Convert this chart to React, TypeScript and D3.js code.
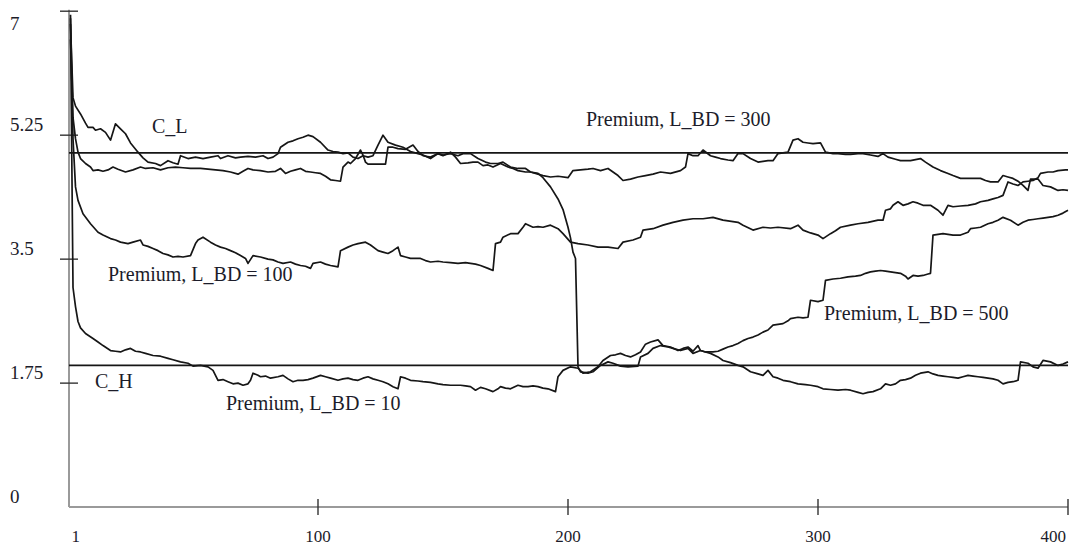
import React from "react";
import * as d3 from "d3";

// Premium paths over 400 periods, [period, value]
const premium10: [number, number][] = [
  [1,6.9],[2,3.1],[3,2.83],[4,2.62],[5,2.53],[7,2.45],[10,2.38],[12,2.33],[14,2.28],[17,2.21],[19,2.2],[21,2.19],[23,2.22],[25,2.24],[27,2.2],[29,2.19],[31,2.17],[34,2.14],[37,2.13],[40,2.1],[42,2.08],[45,2.05],[48,2.03],[50,1.99],[53,2.0],[56,1.98],[58,1.93],[60,1.79],[62,1.8],[64,1.77],[66,1.74],[68,1.75],[70,1.72],[72,1.74],[73,1.79],[74,1.89],[76,1.86],[77,1.84],[79,1.85],[81,1.82],[84,1.84],[86,1.86],[88,1.81],[90,1.77],[92,1.79],[94,1.79],[96,1.8],[98,1.82],[101,1.86],[103,1.84],[105,1.82],[108,1.79],[110,1.81],[112,1.82],[114,1.8],[116,1.79],[118,1.82],[120,1.84],[122,1.81],[124,1.79],[126,1.77],[128,1.74],[130,1.7],[132,1.67],[133,1.84],[135,1.82],[137,1.79],[140,1.78],[142,1.77],[145,1.76],[148,1.74],[150,1.73],[153,1.72],[157,1.72],[159,1.71],[161,1.7],[163,1.65],[165,1.69],[167,1.67],[170,1.63],[172,1.67],[173,1.7],[175,1.68],[177,1.67],[180,1.72],[182,1.7],[184,1.7],[186,1.71],[188,1.7],[190,1.68],[192,1.67],[195,1.63],[196,1.84],[198,1.93],[201,1.98],[204,1.96],[206,1.89],[209,1.91],[212,1.98],[214,2.07],[217,2.14],[219,2.15],[221,2.17],[223,2.14],[225,2.12],[227,2.15],[229,2.19],[231,2.3],[233,2.33],[236,2.36],[238,2.28],[241,2.26],[244,2.21],[246,2.24],[248,2.26],[250,2.2],[252,2.28],[253,2.21],[255,2.19],[257,2.17],[260,2.12],[262,2.07],[265,2.04],[268,2.0],[270,1.98],[273,1.91],[276,1.88],[278,1.86],[280,1.93],[282,1.84],[284,1.82],[286,1.79],[289,1.77],[292,1.74],[295,1.73],[297,1.72],[300,1.7],[302,1.67],[305,1.66],[308,1.65],[311,1.66],[313,1.65],[316,1.62],[318,1.6],[320,1.62],[322,1.63],[325,1.67],[327,1.74],[329,1.72],[331,1.74],[333,1.79],[335,1.8],[337,1.82],[339,1.86],[341,1.89],[344,1.91],[346,1.88],[348,1.86],[350,1.85],[352,1.84],[354,1.83],[356,1.82],[358,1.84],[360,1.86],[362,1.85],[364,1.84],[366,1.83],[368,1.82],[370,1.81],[372,1.79],[374,1.74],[376,1.76],[378,1.77],[380,1.79],[381,2.05],[384,2.03],[386,1.98],[388,1.96],[390,2.07],[393,2.05],[396,2.0],[398,2.02],[400,2.05],
];

const premium100: [number, number][] = [
  [1,6.95],[2,5.2],[3,4.52],[4,4.33],[6,4.14],[9,4.0],[12,3.88],[14,3.84],[17,3.79],[19,3.77],[21,3.74],[24,3.72],[26,3.74],[29,3.77],[30,3.7],[32,3.68],[34,3.65],[36,3.62],[38,3.58],[40,3.56],[42,3.53],[44,3.54],[46,3.53],[49,3.55],[51,3.72],[52,3.77],[54,3.81],[57,3.74],[59,3.7],[61,3.67],[63,3.65],[65,3.62],[67,3.59],[69,3.55],[71,3.51],[72,3.44],[74,3.55],[77,3.53],[80,3.5],[82,3.49],[84,3.46],[86,3.44],[89,3.46],[91,3.43],[93,3.41],[95,3.4],[97,3.37],[98,3.44],[101,3.46],[103,3.43],[105,3.41],[108,3.39],[109,3.62],[112,3.67],[114,3.7],[116,3.72],[119,3.74],[121,3.7],[124,3.62],[126,3.6],[128,3.58],[130,3.62],[132,3.67],[133,3.55],[135,3.53],[137,3.51],[141,3.51],[143,3.48],[145,3.46],[148,3.47],[150,3.46],[153,3.45],[156,3.44],[159,3.45],[161,3.44],[163,3.43],[165,3.41],[168,3.37],[170,3.34],[171,3.72],[173,3.74],[174,3.81],[177,3.86],[180,3.86],[182,3.95],[183,4.0],[186,3.95],[188,3.96],[190,3.95],[193,3.98],[196,3.93],[198,3.86],[201,3.74],[204,3.72],[208,3.7],[212,3.67],[216,3.67],[220,3.65],[222,3.74],[226,3.77],[229,3.81],[230,3.91],[234,3.93],[238,3.98],[242,4.02],[246,4.05],[250,4.07],[254,4.07],[258,4.09],[262,4.05],[266,4.03],[268,4.02],[270,3.98],[274,3.91],[278,3.95],[281,3.94],[284,3.95],[289,3.93],[292,3.98],[294,3.91],[297,3.87],[300,3.84],[302,3.79],[305,3.86],[307,3.9],[309,3.95],[313,3.98],[316,4.0],[320,4.02],[324,4.05],[326,4.05],[327,4.19],[329,4.21],[330,4.26],[332,4.31],[334,4.26],[336,4.28],[338,4.31],[340,4.29],[342,4.26],[345,4.26],[348,4.19],[350,4.12],[352,4.26],[354,4.24],[357,4.25],[360,4.26],[363,4.28],[365,4.31],[368,4.33],[370,4.35],[372,4.37],[374,4.4],[376,4.59],[378,4.56],[380,4.54],[382,4.59],[384,4.6],[386,4.61],[388,4.65],[389,4.71],[392,4.73],[394,4.73],[396,4.75],[399,4.76],[400,4.76],
];

const premium300: [number, number][] = [
  [1,6.6],[2,5.5],[3,5.2],[4,5.01],[5,4.92],[7,4.85],[9,4.8],[10,4.75],[12,4.76],[14,4.74],[16,4.76],[18,4.8],[20,4.77],[23,4.73],[26,4.76],[29,4.8],[31,4.78],[34,4.79],[37,4.76],[40,4.79],[43,4.8],[46,4.79],[49,4.78],[53,4.78],[56,4.77],[59,4.76],[62,4.75],[65,4.73],[68,4.7],[70,4.74],[72,4.78],[74,4.76],[77,4.75],[80,4.73],[83,4.74],[85,4.78],[87,4.71],[89,4.74],[91,4.76],[93,4.78],[95,4.74],[97,4.73],[99,4.72],[101,4.71],[103,4.67],[105,4.62],[107,4.61],[109,4.6],[110,4.8],[112,4.87],[113,4.85],[115,4.92],[117,5.04],[118,4.97],[119,4.87],[120,4.84],[127,4.84],[128,5.08],[130,5.08],[132,5.06],[135,5.05],[138,5.11],[140,5.02],[142,4.96],[145,4.94],[148,4.99],[150,4.96],[153,5.01],[155,4.94],[157,4.85],[160,4.86],[162,4.87],[164,4.87],[166,4.82],[168,4.83],[170,4.8],[173,4.85],[176,4.8],[178,4.78],[180,4.75],[183,4.73],[185,4.73],[188,4.7],[190,4.68],[193,4.66],[196,4.67],[200,4.65],[202,4.75],[205,4.76],[208,4.77],[210,4.78],[213,4.75],[216,4.78],[218,4.73],[220,4.68],[222,4.61],[225,4.63],[228,4.66],[231,4.68],[234,4.7],[237,4.73],[241,4.71],[245,4.75],[247,4.8],[248,4.99],[250,4.96],[252,4.96],[254,5.04],[257,4.96],[259,4.94],[261,4.92],[264,4.9],[266,4.89],[268,4.99],[270,4.99],[273,4.92],[276,4.87],[278,4.88],[280,4.89],[282,4.89],[284,4.99],[288,5.01],[290,5.18],[292,5.2],[294,5.15],[296,5.14],[298,5.13],[301,5.14],[303,5.01],[306,4.99],[308,4.99],[311,4.98],[313,4.98],[316,4.99],[318,4.99],[321,4.97],[324,4.95],[326,4.99],[328,4.94],[331,4.91],[333,4.89],[337,4.89],[341,4.92],[343,4.87],[346,4.8],[349,4.75],[352,4.71],[354,4.68],[357,4.64],[361,4.64],[365,4.64],[367,4.61],[369,4.59],[372,4.59],[374,4.68],[376,4.66],[378,4.64],[380,4.6],[382,4.54],[384,4.47],[385,4.63],[388,4.63],[390,4.54],[393,4.52],[396,4.47],[398,4.48],[400,4.47],
];

const premium500: [number, number][] = [
  [1,6.82],[2,5.78],[3,5.66],[5,5.55],[7,5.42],[8,5.36],[10,5.36],[11,5.32],[13,5.34],[15,5.29],[17,5.18],[19,5.41],[21,5.34],[23,5.27],[25,5.14],[28,5.01],[30,4.93],[32,4.87],[35,4.85],[37,4.82],[40,4.89],[42,4.86],[44,4.84],[45,4.96],[48,4.92],[51,4.94],[54,4.92],[57,4.94],[60,4.96],[61,4.92],[64,4.96],[67,4.93],[69,4.94],[72,4.95],[75,4.94],[78,4.96],[80,4.92],[82,4.94],[84,4.99],[85,5.08],[88,5.15],[90,5.17],[92,5.2],[94,5.22],[96,5.25],[98,5.23],[101,5.15],[104,5.04],[106,5.02],[108,5.01],[110,4.99],[112,5.0],[114,4.94],[116,4.92],[118,4.96],[120,4.94],[122,4.96],[124,5.11],[126,5.25],[127,5.2],[128,5.15],[131,5.11],[134,5.08],[137,5.02],[140,4.99],[142,4.97],[145,4.92],[148,4.99],[150,4.97],[153,4.99],[156,4.96],[158,4.99],[161,4.99],[164,4.92],[167,4.87],[169,4.85],[172,4.85],[174,4.87],[177,4.8],[180,4.78],[183,4.78],[185,4.73],[188,4.71],[190,4.65],[193,4.52],[196,4.35],[198,4.2],[200,3.95],[201,3.8],[202,3.6],[203,3.51],[204,1.98],[205,1.91],[208,1.89],[210,1.91],[213,2.0],[216,2.05],[218,2.03],[221,1.99],[224,1.98],[228,1.99],[229,2.12],[232,2.17],[234,2.24],[237,2.28],[240,2.26],[242,2.24],[245,2.21],[248,2.24],[250,2.17],[253,2.21],[255,2.19],[258,2.19],[260,2.2],[262,2.23],[264,2.26],[266,2.28],[268,2.31],[270,2.35],[272,2.38],[274,2.4],[276,2.43],[278,2.47],[280,2.5],[282,2.57],[284,2.58],[286,2.59],[288,2.63],[289,2.66],[292,2.68],[294,2.67],[296,2.68],[297,2.92],[300,2.9],[302,2.92],[303,3.2],[306,3.22],[309,3.23],[312,3.25],[315,3.26],[317,3.27],[319,3.3],[321,3.32],[323,3.33],[325,3.34],[327,3.33],[329,3.32],[331,3.31],[333,3.3],[335,3.26],[336,3.22],[338,3.27],[340,3.26],[342,3.27],[344,3.29],[345,3.3],[346,3.84],[348,3.85],[350,3.86],[352,3.85],[354,3.84],[357,3.84],[360,3.88],[361,3.93],[363,3.94],[365,3.95],[368,4.0],[370,4.02],[372,4.05],[374,4.09],[377,4.05],[380,3.98],[382,4.02],[384,4.05],[386,4.06],[388,4.07],[390,4.08],[392,4.09],[394,4.1],[396,4.12],[398,4.15],[400,4.19],
];

// Cost bounds drawn as horizontal reference lines
const costLow = 5.0;   // C_L
const costHigh = 2.0;  // C_H

const yTickValues = [0, 1.75, 3.5, 5.25, 7];
const yTickLabels = ["0", "1.75", "3.5", "5.25", "7"];
const xTickValues = [1, 100, 200, 300, 400];
const xTickLabels = ["1", "100", "200", "300", "400"];

const seriesList = [premium10, premium100, premium300, premium500];

const W = 1070;
const H = 549;
const FONT = "'Liberation Serif', 'Times New Roman', serif";
const INK = "#161616";
const TEXT = "#1c1c2a";
const AXIS = "#9a9a9a";

export default function App() {
  const x = d3.scaleLinear().domain([1, 400]).range([70.5, 1068]);
  const y = d3.scaleLinear().domain([0, 7]).range([507.1, 11.2]);

  const line = d3
    .line<[number, number]>()
    .x((d) => x(d[0]))
    .y((d) => y(d[1]))
    .curve(d3.curveLinear);

  const axisX = 69;
  const xStart = x(1) - 1.5;
  const xEnd = x(400);

  return (
    <div style={{ position: "absolute", left: 0, top: 0 }}>
      <svg width={W} height={H} style={{ display: "block", background: "#ffffff" }}>
        {/* axes */}
        <line x1={axisX} x2={axisX} y1={y(7) - 1.5} y2={y(0)} stroke={AXIS} strokeWidth={2} />
        <line x1={axisX} x2={xEnd} y1={y(0)} y2={y(0)} stroke={AXIS} strokeWidth={2} />

        {/* y ticks and labels */}
        {yTickValues.map((v, i) => (
          <g key={"yt" + i}>
            {v > 0 && (
              <line x1={60} x2={78} y1={y(v)} y2={y(v)} stroke="#333" strokeWidth={1.4} />
            )}
            <text
              x={10}
              y={Math.max(y(v) - 4, 30)}
              fontFamily={FONT}
              fontSize={19}
              fill={TEXT}
            >
              {yTickLabels[i]}
            </text>
          </g>
        ))}

        {/* x ticks and labels */}
        {xTickValues.map((t, i) => {
          const first = i === 0;
          const last = i === xTickValues.length - 1;
          return (
            <g key={"xt" + i}>
              {!first && (
                <line x1={x(t)} x2={x(t)} y1={y(0) - 8} y2={y(0) + 8} stroke="#333" strokeWidth={1.4} />
              )}
              <text
                x={first ? x(t) + 1 : last ? x(t) - 2 : x(t)}
                y={542}
                textAnchor={first ? "start" : last ? "end" : "middle"}
                fontFamily={FONT}
                fontSize={17}
                fill={TEXT}
              >
                {xTickLabels[i]}
              </text>
            </g>
          );
        })}

        {/* cost bounds */}
        <line x1={xStart} x2={xEnd} y1={y(costLow)} y2={y(costLow)} stroke={INK} strokeWidth={1.6} />
        <line x1={xStart} x2={xEnd} y1={y(costHigh)} y2={y(costHigh)} stroke={INK} strokeWidth={1.6} />

        {/* premium paths */}
        {seriesList.map((s, i) => (
          <path
            key={"s" + i}
            d={line(s) || ""}
            fill="none"
            stroke={INK}
            strokeWidth={1.7}
            strokeLinejoin="round"
          />
        ))}

        {/* annotations */}
        <g fontFamily={FONT} fontSize={20} fill={TEXT}>
          <text x={152} y={133}>C_L</text>
          <text x={95} y={388}>C_H</text>
          <text x={586} y={126}>Premium, L_BD = 300</text>
          <text x={108} y={281}>Premium, L_BD = 100</text>
          <text x={226} y={410}>Premium, L_BD = 10</text>
          <text x={824} y={320}>Premium, L_BD = 500</text>
        </g>
      </svg>
    </div>
  );
}
